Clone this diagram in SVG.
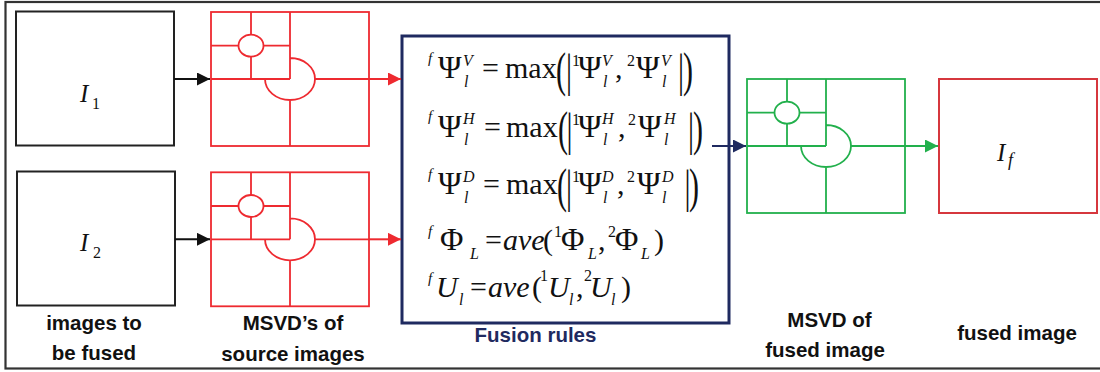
<svg xmlns="http://www.w3.org/2000/svg" xmlns:xlink="http://www.w3.org/1999/xlink" width="1100" height="372" viewBox="0 0 1100 372">
<style>
.frame{fill:none;stroke:#333;stroke-width:2.2}
.box{fill:#fff;stroke:#222;stroke-width:2}
.red{stroke:#ee2a30}
.green{stroke:#22b04c}
.shape{fill:none;stroke-width:1.8}
.fusebox{fill:#fff;stroke:#1f2a60;stroke-width:3}
.outbox{fill:#fff;stroke:#d6373d;stroke-width:2}
.lbl{font-family:"Liberation Sans",Arial,sans-serif;font-weight:bold;font-size:20.5px;fill:#111;text-anchor:middle}
.navy{fill:#1f2a60}
.eq{font-family:"Liberation Serif","Times New Roman",serif;fill:#111}
.m{font-size:30px}
.g{font-size:32px}
.mi{font-size:30px;font-style:italic}
.s{font-size:16px}
.si{font-size:16px;font-style:italic}
.f{font-size:15px;font-style:italic}
.var{font-family:"Liberation Serif","Times New Roman",serif;fill:#111;font-style:italic}
.conn{fill:none;stroke-width:2}
</style>
<defs>
<g id="msvd">
<rect x="0" y="0" width="158" height="134"/>
<ellipse cx="40" cy="33.7" rx="12.5" ry="11"/>
<path d="M40,0V22.7M40,44.7V67M0,33.7H27.5M52.5,33.7H79M79,0V67M0,67H79M104,67H158M79,88V134M79,46A25,21 0 1 1 54,67"/>
</g>
<marker id="ah-black" markerUnits="userSpaceOnUse" markerWidth="14" markerHeight="14" refX="13" refY="6.5" orient="auto"><path d="M0,0L13,6.5L0,13z" fill="#111"/></marker>
<marker id="ah-red" markerUnits="userSpaceOnUse" markerWidth="14" markerHeight="14" refX="13" refY="6.5" orient="auto"><path d="M0,0L13,6.5L0,13z" fill="#ee2a30"/></marker>
<marker id="ah-navy" markerUnits="userSpaceOnUse" markerWidth="14" markerHeight="14" refX="13" refY="6.5" orient="auto"><path d="M0,0L13,6.5L0,13z" fill="#1f2a60"/></marker>
<marker id="ah-green" markerUnits="userSpaceOnUse" markerWidth="14" markerHeight="14" refX="13" refY="6.5" orient="auto"><path d="M0,0L13,6.5L0,13z" fill="#22b04c"/></marker>
</defs>
<rect width="1100" height="372" fill="#fff"/>
<rect class="frame" x="5.5" y="2" width="1110" height="366.5"/>

<g id="img1">
<rect class="box" x="16" y="11.5" width="158" height="134"/>
<text class="var" x="80" y="102" font-size="25">I</text>
<text class="eq s" x="92" y="109" font-size="17">1</text>
</g>
<g id="img2">
<rect class="box" x="17" y="171.5" width="158" height="134"/>
<text class="var" x="80" y="251" font-size="25">I</text>
<text class="eq s" x="93" y="257.5" font-size="17">2</text>
</g>
<g id="msvd1" class="shape red"><use xlink:href="#msvd" href="#msvd" transform="translate(211,12)"/></g>
<g id="msvd2" class="shape red"><use xlink:href="#msvd" href="#msvd" transform="translate(211,172.3)"/></g>
<g id="msvdf" class="shape green"><use xlink:href="#msvd" href="#msvd" transform="translate(747,79)"/></g>
<g id="fused">
<rect class="outbox" x="939" y="79" width="158" height="134"/>
<text class="var" x="997" y="161" font-size="25">I</text>
<text class="var" x="1008" y="166" font-size="18">f</text>
</g>

<g id="rules">
<rect class="fusebox" x="402" y="36" width="327" height="287"/>
<g class="eq">
<text class="f" x="428" y="63">f</text>
<text class="g" x="438" y="78">Ψ</text>
<text class="si" x="463" y="65.5">V</text>
<text class="si" x="464" y="86.5">l</text>
<text class="m" x="482" y="78">=</text>
<text class="m" x="505" y="78">max</text>
<text class="m" transform="translate(556,86) scale(1,1.6)">(</text>
<text class="m" transform="translate(566,86) scale(1,1.55)">|</text>
<text class="s" x="572" y="66">1</text>
<text class="g" x="578" y="78">Ψ</text>
<text class="si" x="602" y="65.5">V</text>
<text class="si" x="603" y="86.5">l</text>
<text class="m" x="615" y="78">,</text>
<text class="s" x="627" y="66">2</text>
<text class="g" x="636" y="78">Ψ</text>
<text class="si" x="661" y="65.5">V</text>
<text class="si" x="662" y="86.5">l</text>
<text class="m" transform="translate(678,86) scale(1,1.55)">|</text>
<text class="m" transform="translate(683,86) scale(1,1.6)">)</text>

<text class="f" x="428" y="121">f</text>
<text class="g" x="438" y="136.5">Ψ</text>
<text class="si" x="463" y="124">H</text>
<text class="si" x="464" y="145">l</text>
<text class="m" x="484" y="136.5">=</text>
<text class="m" x="506" y="136.5">max</text>
<text class="m" transform="translate(558,144.5) scale(1,1.6)">(</text>
<text class="m" transform="translate(566.5,144.5) scale(1,1.55)">|</text>
<text class="s" x="572" y="124.5">1</text>
<text class="g" x="578" y="136.5">Ψ</text>
<text class="si" x="602" y="124">H</text>
<text class="si" x="603" y="145">l</text>
<text class="m" x="618" y="136.5">,</text>
<text class="s" x="628" y="124.5">2</text>
<text class="g" x="638" y="136.5">Ψ</text>
<text class="si" x="664" y="124">H</text>
<text class="si" x="664" y="145">l</text>
<text class="m" transform="translate(688,144.5) scale(1,1.55)">|</text>
<text class="m" transform="translate(693,144.5) scale(1,1.6)">)</text>

<text class="f" x="428" y="179">f</text>
<text class="g" x="438" y="194">Ψ</text>
<text class="si" x="463" y="181.5">D</text>
<text class="si" x="464" y="202.5">l</text>
<text class="m" x="483" y="194">=</text>
<text class="m" x="506" y="194">max</text>
<text class="m" transform="translate(557,202) scale(1,1.6)">(</text>
<text class="m" transform="translate(566,202) scale(1,1.55)">|</text>
<text class="s" x="572" y="182">1</text>
<text class="g" x="578" y="194">Ψ</text>
<text class="si" x="602" y="181.5">D</text>
<text class="si" x="603" y="202.5">l</text>
<text class="m" x="617" y="194">,</text>
<text class="s" x="627" y="182">2</text>
<text class="g" x="637" y="194">Ψ</text>
<text class="si" x="662" y="181.5">D</text>
<text class="si" x="662" y="202.5">l</text>
<text class="m" transform="translate(684.5,202) scale(1,1.55)">|</text>
<text class="m" transform="translate(689,202) scale(1,1.6)">)</text>

<text class="f" x="428" y="236">f</text>
<text class="g" x="440" y="250">Φ</text>
<text class="si" x="470" y="258.5">L</text>
<text class="m" x="485" y="250">=</text>
<text class="mi" x="503" y="250" font-size="28">ave</text>
<text class="m" x="543" y="250">(</text>
<text class="s" x="554" y="237">1</text>
<text class="g" x="561" y="250">Φ</text>
<text class="si" x="588" y="258.5">L</text>
<text class="m" x="598" y="250">,</text>
<text class="s" x="608" y="237">2</text>
<text class="g" x="615" y="250">Φ</text>
<text class="si" x="641" y="258.5">L</text>
<text class="m" x="654" y="250">)</text>

<text class="f" x="428" y="283">f</text>
<text class="mi" x="436" y="297">U</text>
<text class="si" x="459" y="305">l</text>
<text class="m" x="470" y="297">=</text>
<text class="mi" x="488" y="297">ave</text>
<text class="m" x="532" y="297">(</text>
<text class="s" x="540" y="281">1</text>
<text class="mi" x="548" y="297">U</text>
<text class="si" x="569" y="305">l</text>
<text class="m" x="576" y="297">,</text>
<text class="s" x="584" y="281">2</text>
<text class="mi" x="590" y="297">U</text>
<text class="si" x="611" y="305">l</text>
<text class="m" x="621" y="297">)</text>
</g>
</g>

<g id="connectors" class="conn">
<path d="M174,79H210" stroke="#111" marker-end="url(#ah-black)"/>
<path d="M175,239.3H210" stroke="#111" marker-end="url(#ah-black)"/>
<path d="M369,79H401" stroke="#ee2a30" marker-end="url(#ah-red)"/>
<path d="M369,239.3H401" stroke="#ee2a30" marker-end="url(#ah-red)"/>
<path d="M712,146H746" stroke="#1f2a60" marker-end="url(#ah-navy)"/>
<path d="M905,146H938" stroke="#22b04c" marker-end="url(#ah-green)"/>
</g>

<g id="labels">
<text class="lbl" x="94" y="330">images to</text>
<text class="lbl" x="94" y="360">be fused</text>
<text class="lbl" x="293" y="330">MSVD’s of</text>
<text class="lbl" x="293" y="361">source images</text>
<text class="lbl navy" x="535.5" y="341.5">Fusion rules</text>
<text class="lbl" x="829.5" y="326.5">MSVD of</text>
<text class="lbl" x="825" y="356.5">fused image</text>
<text class="lbl" x="1017" y="340">fused image</text>
</g>
</svg>
